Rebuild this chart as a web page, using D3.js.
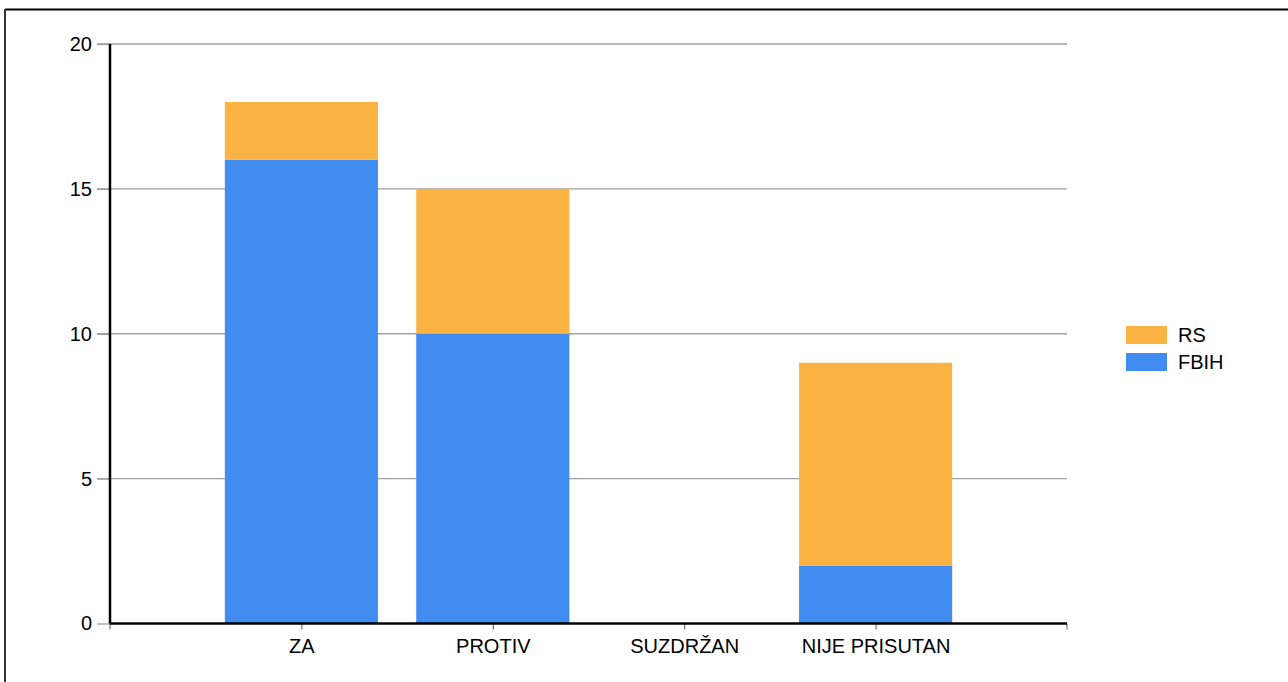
<!DOCTYPE html>
<html>
<head>
<meta charset="utf-8">
<script src="https://cdn.jsdelivr.net/npm/d3@7"></script>
<style>
  html, body { margin: 0; padding: 0; background: #fff; }
  svg { display: block; font-family: 'Liberation Sans', Arial, sans-serif; }
</style>
</head>
<body>
<div id="chart"></div>
<script>
const categories = ['ZA', 'PROTIV', 'SUZDRŽAN', 'NIJE PRISUTAN']
const seriesNames = ['FBIH', 'RS']
const fbihValues = [16, 10, 0, 2]
const rsValues = [2, 5, 0, 7]
const yTicks = [0, 5, 10, 15, 20]

const colors = { FBIH: '#418cf0', RS: '#fbb343' }

const W = 1288, H = 682
const margin = { top: 44, right: 221, bottom: 58.5, left: 110 }
const width = W - margin.left - margin.right
const height = H - margin.top - margin.bottom
const fontSize = 20

const rows = categories.map((c, i) => ({ cat: c, FBIH: fbihValues[i], RS: rsValues[i] }))
const stacked = d3.stack().keys(seriesNames)(rows)

const svg = d3.select('#chart').append('svg')
  .attr('width', W)
  .attr('height', H)

// frame
svg.append('line').attr('x1', 5).attr('x2', W).attr('y1', 9.5).attr('y2', 9.5)
  .attr('stroke', '#000').attr('stroke-width', 2)
svg.append('line').attr('x1', 5).attr('x2', 5).attr('y1', 9).attr('y2', H)
  .attr('stroke', '#333').attr('stroke-width', 2)

const g = svg.append('g').attr('transform', 'translate(' + margin.left + ',' + margin.top + ')')

const step = width / (categories.length + 1)
const x = d3.scalePoint().domain(categories).range([0, width]).padding(1)
const y = d3.scaleLinear().domain([0, 20]).range([height, 0])
const barW = step * 0.8

// grid
g.selectAll('.grid').data(yTicks.filter(t => t > 0)).join('line')
  .attr('x1', -13).attr('x2', width)
  .attr('y1', d => y(d)).attr('y2', d => y(d))
  .attr('stroke', '#a0a0a0').attr('stroke-width', 1.3)

// y axis
const yAxis = d3.axisLeft(y).tickValues(yTicks).tickSize(13).tickPadding(5)
const ya = g.append('g').call(yAxis)
ya.select('.domain').remove()
ya.selectAll('.tick line').attr('stroke', '#a0a0a0').attr('stroke-width', 1.3)
ya.selectAll('.tick text').attr('font-size', fontSize).attr('fill', '#000')
  .attr('font-family', "'Liberation Sans', Arial, sans-serif")

// bars
g.selectAll('.series').data(stacked).join('g')
  .attr('fill', d => colors[d.key])
  .selectAll('rect').data(d => d).join('rect')
  .attr('x', d => x(d.data.cat) - barW / 2)
  .attr('width', barW)
  .attr('y', d => y(d[1]))
  .attr('height', d => y(d[0]) - y(d[1]))

// x axis
const xa = g.append('g').attr('transform', 'translate(0,' + height + ')')
  .call(d3.axisBottom(x).tickSize(6).tickPadding(9.5).tickSizeOuter(0))
xa.select('.domain').remove()
xa.selectAll('.tick line').attr('stroke', '#555')
xa.selectAll('.tick text').attr('font-size', fontSize).attr('fill', '#000')
  .attr('font-family', "'Liberation Sans', Arial, sans-serif")
;[0, width].forEach(px => {
  xa.append('line').attr('x1', px).attr('x2', px).attr('y1', 0).attr('y2', 6).attr('stroke', '#555')
})
xa.append('line').attr('x1', 0).attr('x2', width).attr('y1', 0).attr('y2', 0)
  .attr('stroke', '#000').attr('stroke-width', 2.5)

// y axis line
g.append('line').attr('x1', 0).attr('x2', 0).attr('y1', 0).attr('y2', height)
  .attr('stroke', '#000').attr('stroke-width', 2.5)

// legend
const legend = svg.append('g').attr('transform', 'translate(1126,326)')
const legendItems = ['RS', 'FBIH']
legendItems.forEach((name, i) => {
  const row = legend.append('g').attr('transform', 'translate(0,' + i * 27 + ')')
  row.append('rect').attr('width', 41).attr('height', 18).attr('fill', colors[name])
  row.append('text').attr('x', 52).attr('y', 16).attr('font-size', fontSize).text(name)
})
</script>
</body>
</html>
